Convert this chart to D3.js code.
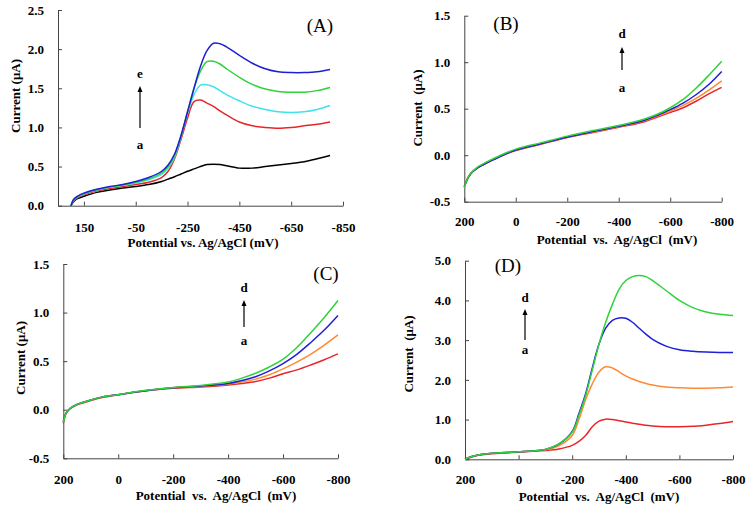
<!DOCTYPE html>
<html><head><meta charset="utf-8">
<script src="https://cdn.jsdelivr.net/npm/d3@7"></script>
<style>
body{margin:0;background:#fff;}
svg{display:block;font-family:"Liberation Serif","Times New Roman",serif;}
</style></head><body>
<svg id="chart" width="750" height="510"></svg>
<script>
// ---------- Panel A ----------
const potA = [200,190,175,150,100,50,0,-50,-100,-150,-175,-200,-225,-250,-275,-300,-325,-350,-375,-400,-450,-500,-550,-600,-650,-700,-750,-800];
const A_a = [0,0.05,0.09,0.12,0.17,0.2,0.225,0.245,0.27,0.31,0.34,0.37,0.405,0.44,0.47,0.5,0.525,0.53,0.525,0.51,0.48,0.48,0.5,0.52,0.54,0.56,0.6,0.64];
const A_b = [0,0.06,0.1,0.14,0.19,0.22,0.245,0.27,0.3,0.36,0.44,0.6,0.85,1.12,1.33,1.35,1.31,1.27,1.21,1.16,1.07,1.02,1.0,0.99,1.0,1.02,1.04,1.07];
const A_c = [0,0.07,0.11,0.15,0.2,0.235,0.26,0.29,0.33,0.4,0.48,0.62,0.88,1.18,1.42,1.54,1.545,1.52,1.47,1.42,1.34,1.27,1.23,1.2,1.19,1.2,1.23,1.28];
const A_d = [0,0.075,0.115,0.155,0.205,0.24,0.265,0.3,0.345,0.42,0.5,0.64,0.89,1.2,1.5,1.72,1.84,1.845,1.81,1.75,1.64,1.55,1.49,1.46,1.45,1.45,1.47,1.51];
const A_e = [0,0.08,0.12,0.16,0.21,0.245,0.27,0.31,0.36,0.44,0.52,0.66,0.9,1.2,1.5,1.78,1.98,2.075,2.07,2.03,1.92,1.82,1.75,1.71,1.70,1.70,1.71,1.74];
const A_xticks = [150,-50,-250,-450,-650,-850];
const A_yticks = [0,0.5,1.0,1.5,2.0,2.5];

// ---------- Panel B ----------
const potB = [200,190,175,150,125,100,50,0,-100,-200,-300,-400,-500,-550,-600,-650,-700,-750,-800];
const B_a = [-0.34,-0.27,-0.2,-0.14,-0.1,-0.065,0.0,0.05,0.12,0.19,0.245,0.3,0.36,0.41,0.46,0.51,0.58,0.66,0.73];
const B_b = [-0.33,-0.26,-0.195,-0.135,-0.095,-0.06,0.005,0.055,0.125,0.195,0.25,0.305,0.37,0.42,0.475,0.535,0.61,0.7,0.8];
const B_c = [-0.34,-0.27,-0.2,-0.14,-0.1,-0.065,0.0,0.055,0.125,0.195,0.255,0.31,0.375,0.43,0.49,0.56,0.65,0.76,0.9];
const B_d = [-0.35,-0.27,-0.195,-0.13,-0.09,-0.055,0.01,0.065,0.135,0.205,0.265,0.32,0.39,0.44,0.51,0.6,0.72,0.86,1.01];

// ---------- Panel C ----------
const potC = [200,195,190,175,150,100,50,0,-100,-200,-300,-400,-450,-500,-550,-600,-650,-700,-750,-800];
const C_a = [-0.14,-0.08,-0.04,0.01,0.05,0.095,0.13,0.155,0.195,0.22,0.235,0.255,0.27,0.29,0.325,0.37,0.41,0.46,0.515,0.575];
const C_b = [-0.12,-0.07,-0.035,0.015,0.055,0.1,0.135,0.155,0.195,0.225,0.24,0.265,0.285,0.315,0.36,0.42,0.49,0.57,0.665,0.77];
const C_c = [-0.12,-0.07,-0.035,0.015,0.055,0.1,0.135,0.155,0.195,0.225,0.245,0.27,0.3,0.34,0.4,0.475,0.57,0.69,0.82,0.97];
const C_d = [-0.13,-0.075,-0.035,0.015,0.055,0.1,0.135,0.155,0.2,0.23,0.25,0.285,0.325,0.375,0.44,0.52,0.64,0.79,0.95,1.125];

// ---------- Panel D ----------
const potD = [200,175,150,100,50,0,-50,-100,-150,-200,-225,-250,-275,-300,-325,-350,-375,-400,-425,-450,-475,-500,-550,-600,-650,-700,-750,-800];
const D_a = [0,0.06,0.1,0.14,0.16,0.18,0.2,0.22,0.26,0.35,0.45,0.6,0.82,0.96,1.01,1.0,0.97,0.94,0.91,0.88,0.86,0.84,0.82,0.82,0.83,0.86,0.9,0.95];
const D_b = [0,0.07,0.11,0.15,0.17,0.19,0.21,0.24,0.34,0.6,1.0,1.5,1.9,2.2,2.33,2.3,2.2,2.1,2.02,1.96,1.91,1.87,1.82,1.8,1.79,1.79,1.8,1.82];
const D_c = [0,0.07,0.11,0.15,0.17,0.19,0.21,0.25,0.38,0.7,1.15,1.65,2.3,2.9,3.3,3.5,3.56,3.55,3.45,3.3,3.15,3.02,2.85,2.76,2.72,2.7,2.69,2.69];
const D_d = [0,0.07,0.11,0.15,0.17,0.19,0.21,0.25,0.39,0.68,1.1,1.6,2.25,2.9,3.45,3.9,4.28,4.5,4.6,4.63,4.6,4.5,4.25,4.0,3.82,3.71,3.65,3.62];

const xticks200 = [200,0,-200,-400,-600,-800];
const B_yticks = [-0.5,0,0.5,1.0,1.5];
const D_yticks = [0,1,2,3,4,5];

const colBlack = "#000000", colRed = "#e8262a", colCyan = "#3fe3ee", colGreen = "#2fd23a", colBlue = "#1f1fd8", colOrange = "#ff8a33";

const svg = d3.select("#chart");

function panel(cfg){
  const g = svg.append("g");
  const x = d3.scaleLinear().domain(cfg.xdom).range([cfg.left, cfg.right]);
  const y = d3.scaleLinear().domain(cfg.ydom).range([cfg.bottom, cfg.top]);
  const ax = g.append("g").attr("transform", `translate(0,${cfg.bottom})`)
    .call(d3.axisBottom(x).tickValues(cfg.xticks).tickSizeInner(-4).tickSizeOuter(0).tickPadding(cfg.xpad).tickFormat(d=>String(d)));
  const ay = g.append("g").attr("transform", `translate(${cfg.left},0)`)
    .call(d3.axisLeft(y).tickValues(cfg.yticks).tickSizeInner(-4).tickSizeOuter(0).tickPadding(14).tickFormat(d=>d.toFixed(1)));
  [ax, ay].forEach(a=>{
    a.selectAll("path,line").attr("stroke","#444").attr("stroke-width",1);
    a.selectAll("text").attr("font-size",13).attr("font-weight","bold").attr("fill","#000")
      .attr("font-family","'Liberation Serif',serif");
  });
  const line = d3.line().x((d,i)=>x(cfg.pot[i])).y(d=>y(d)).curve(d3.curveCatmullRom.alpha(0.5));
  cfg.series.forEach(s=>{
    g.append("path").attr("d", line(s.v)).attr("fill","none").attr("stroke", s.c).attr("stroke-width",1.5);
  });
  g.append("text").attr("x", cfg.xtx).attr("y", cfg.xty).attr("text-anchor","middle")
    .attr("font-size",13).attr("font-weight","bold").style("white-space","pre").text(cfg.xtitle);
  g.append("text").attr("transform", `translate(${cfg.ytx},${cfg.yty}) rotate(-90)`).attr("text-anchor","middle")
    .attr("dominant-baseline","central").attr("font-size",13).attr("font-weight","bold").style("white-space","pre").text(cfg.ytitle);
  g.append("text").attr("x", cfg.lx).attr("y", cfg.ly).attr("text-anchor","middle").attr("font-size",19).text(cfg.label);
  g.append("line").attr("x1",cfg.ax).attr("x2",cfg.ax).attr("y1",cfg.ay1).attr("y2",cfg.ay2+5)
    .attr("stroke","#000").attr("stroke-width",1.2);
  g.append("path").attr("d",`M${cfg.ax-2.5},${cfg.ay2+6}L${cfg.ax},${cfg.ay2}L${cfg.ax+2.5},${cfg.ay2+6}Z`).attr("fill","#000");
  g.append("text").attr("x",cfg.ax).attr("y",cfg.topY).attr("text-anchor","middle").attr("dominant-baseline","central")
    .attr("font-size",13).attr("font-weight","bold").text(cfg.topL);
  g.append("text").attr("x",cfg.ax).attr("y",cfg.botY).attr("text-anchor","middle").attr("dominant-baseline","central")
    .attr("font-size",13).attr("font-weight","bold").text("a");
}

panel({left:58,right:343,top:10,bottom:205.7,xdom:[250,-850],ydom:[0,2.5],xticks:A_xticks,yticks:A_yticks,xpad:17,
  pot:potA, series:[{v:A_a,c:colBlack},{v:A_b,c:colRed},{v:A_c,c:colCyan},{v:A_d,c:colGreen},{v:A_e,c:colBlue}],
  xtitle:"Potential vs. Ag/AgCl (mV)", xtx:203, xty:247, ytitle:"Current (μA)", ytx:15, yty:96,
  label:"(A)", lx:320, ly:32, ax:140, ay1:128, ay2:86, topL:"e", topY:73, botY:144});

panel({left:464.3,right:721.7,top:15.7,bottom:201.7,xdom:[200,-800],ydom:[-0.5,1.5],xticks:xticks200,yticks:B_yticks,xpad:15,
  pot:potB, series:[{v:B_a,c:colRed},{v:B_b,c:colOrange},{v:B_c,c:colBlue},{v:B_d,c:colGreen}],
  xtitle:"Potential  vs.  Ag/AgCl  (mV)", xtx:617, xty:244, ytitle:"Current  (μA)", ytx:417, yty:108,
  label:"(B)", lx:506, ly:29.5, ax:622, ay1:70, ay2:47, topL:"d", topY:33, botY:87});

panel({left:63.3,right:338,top:264,bottom:458.3,xdom:[200,-800],ydom:[-0.5,1.5],xticks:xticks200,yticks:B_yticks,xpad:16,
  pot:potC, series:[{v:C_a,c:colRed},{v:C_b,c:colOrange},{v:C_c,c:colBlue},{v:C_d,c:colGreen}],
  xtitle:"Potential  vs.  Ag/AgCl  (mV)", xtx:216, xty:500, ytitle:"Current (μA)", ytx:20, yty:358,
  label:"(C)", lx:326, ly:280, ax:244, ay1:327, ay2:300, topL:"d", topY:287, botY:340});

panel({left:465,right:733,top:260.7,bottom:459.3,xdom:[200,-800],ydom:[0,5],xticks:xticks200,yticks:D_yticks,xpad:15,
  pot:potD, series:[{v:D_a,c:colRed},{v:D_b,c:colOrange},{v:D_c,c:colBlue},{v:D_d,c:colGreen}],
  xtitle:"Potential  vs.  Ag/AgCl  (mV)", xtx:599, xty:501, ytitle:"Current  (μA)", ytx:408, yty:354,
  label:"(D)", lx:508, ly:272, ax:525, ay1:340, ay2:309, topL:"d", topY:297, botY:349});
</script>
</body></html>
